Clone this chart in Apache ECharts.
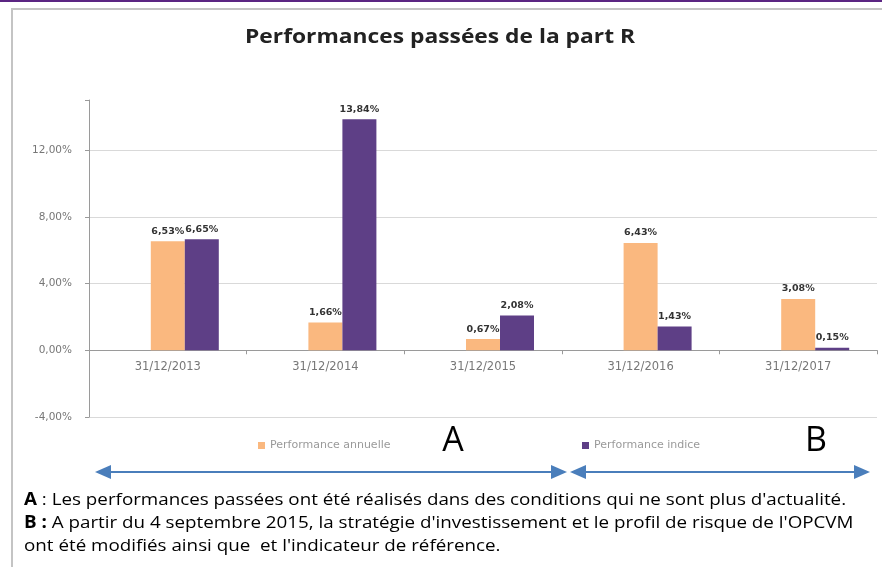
<!DOCTYPE html>
<html>
<head>
<meta charset="utf-8">
<script src="https://cdn.jsdelivr.net/npm/echarts@6/dist/echarts.min.js"></script>
<style>
  html, body { margin: 0; padding: 0; background: #fff; }
  #main { width: 882px; height: 567px; }
</style>
</head>
<body>
<div id="main"></div>
<script>
const years = ["31/12/2013", "31/12/2014", "31/12/2015", "31/12/2016", "31/12/2017"];
const perfAnnuelle = [6.53, 1.66, 0.67, 6.43, 3.08];
const perfIndice = [6.65, 13.84, 2.08, 1.43, 0.15];
const yTicks = [-4, 0, 4, 8, 12];

const orange = "#FAB87F";
const purple = "#5E3F86";
const arrowBlue = "#4A7EBB";

function pct(v) {
	return v.toFixed(2).replace(".", ",") + "%";
}

function arrow(x1, x2, y) {
	// line with a head at both ends
	return [
		{ type: "line", shape: { x1: x1 + 12, y1: y, x2: x2 - 12, y2: y }, style: { stroke: arrowBlue, lineWidth: 2 } },
		{ type: "polygon", shape: { points: [[x1, y], [x1 + 16, y - 7], [x1 + 16, y + 7]] }, style: { fill: arrowBlue } },
		{ type: "polygon", shape: { points: [[x2, y], [x2 - 16, y - 7], [x2 - 16, y + 7]] }, style: { fill: arrowBlue } },
	];
}

const noteFont = "'Open Sans', sans-serif";
const smallFont = "'DejaVu Sans', sans-serif";

function note(y, text) {
	return {
		type: "text", x: 24, y: y, scaleX: 1.105,
		style: {
			text: text,
			fontFamily: noteFont, fontSize: 17, fill: "#000", textVerticalAlign: "middle",
			rich: { b: { fontFamily: noteFont, fontSize: 17, fontWeight: "bold", fill: "#000" } },
		},
	};
}

const barLabel = {
	show: true,
	position: "top",
	distance: 5,
	formatter: (p) => pct(p.value),
	fontFamily: smallFont,
	fontSize: 9.5,
	fontWeight: "bold",
	color: "#333",
};

const legendText = { fontFamily: smallFont, fontSize: 11, color: "#9a9a9a" };

let myChart = echarts.init(document.getElementById("main"));

let options = {
	animation: false,
	grid: { left: 89, right: 5, top: 100, bottom: 150 },
	legend: [
		{
			data: ["Performance annuelle"],
			left: 253, top: 435,
			icon: "rect", itemWidth: 7, itemHeight: 7,
			textStyle: legendText,
		},
		{
			data: ["Performance indice"],
			left: 577, top: 435,
			icon: "rect", itemWidth: 7, itemHeight: 7,
			textStyle: legendText,
		},
	],
	xAxis: {
		type: "category",
		data: years,
		offset: -66.74,
		axisLine: { onZero: false, lineStyle: { color: "#9a9a9a" } },
		axisTick: { show: true, length: 4, lineStyle: { color: "#9a9a9a" } },
		axisLabel: { margin: 11, fontFamily: smallFont, fontSize: 11.5, color: "#777" },
	},
	yAxis: {
		type: "value",
		min: -4,
		max: 15,
		interval: 4,
		axisLine: { show: true, lineStyle: { color: "#9a9a9a" } },
		axisTick: { show: true, length: 4, lineStyle: { color: "#9a9a9a" } },
		axisLabel: {
			margin: 17,
			fontFamily: smallFont,
			fontSize: 10.5,
			color: "#777",
			formatter: (v) => (yTicks.includes(v) ? pct(v) : ""),
		},
		splitLine: {
			lineStyle: { color: ["#d9d9d9", "#d9d9d9", "#d9d9d9", "#d9d9d9", "#d9d9d9", "rgba(0,0,0,0)"] },
		},
	},
	series: [
		{
			// empty slot that Excel kept in front of the two bars
			name: "vide",
			type: "bar",
			data: [],
			barWidth: 34,
			barGap: "0%",
		},
		{
			name: "Performance annuelle",
			type: "bar",
			data: perfAnnuelle,
			barWidth: 34,
			barGap: "0%",
			itemStyle: { color: orange },
			label: barLabel,
		},
		{
			name: "Performance indice",
			type: "bar",
			data: perfIndice,
			barWidth: 34,
			barGap: "0%",
			itemStyle: { color: purple },
			label: barLabel,
		},
	],
	graphic: [
		{ type: "rect", shape: { x: 0, y: 0, width: 882, height: 2 }, style: { fill: "#5B2582" } },
		{ type: "rect", shape: { x: 12, y: 9, width: 900, height: 600 }, style: { fill: "none", stroke: "#c4c4c4", lineWidth: 2 } },
		{
			type: "text", x: 440, y: 37, scaleX: 1.14,
			style: { text: "Performances passées de la part R", fontFamily: noteFont, fontSize: 20, fontWeight: "bold", fill: "#222", textAlign: "center", textVerticalAlign: "middle" },
		},
		{ type: "text", x: 453, y: 441, style: { text: "A", fontFamily: noteFont, fontSize: 34, fill: "#000", textAlign: "center", textVerticalAlign: "middle" } },
		{ type: "text", x: 816, y: 441, style: { text: "B", fontFamily: noteFont, fontSize: 34, fill: "#000", textAlign: "center", textVerticalAlign: "middle" } },
		...arrow(95, 567, 472),
		...arrow(570, 870, 472),
		note(500, "{b|A} : Les performances passées ont été réalisés dans des conditions qui ne sont plus d'actualité."),
		note(523, "{b|B :} A partir du 4 septembre 2015, la stratégie d'investissement et le profil de risque de l'OPCVM"),
		note(546, "ont été modifiés ainsi que  et l'indicateur de référence."),
	],
};

myChart.setOption(options);
</script>
</body>
</html>
